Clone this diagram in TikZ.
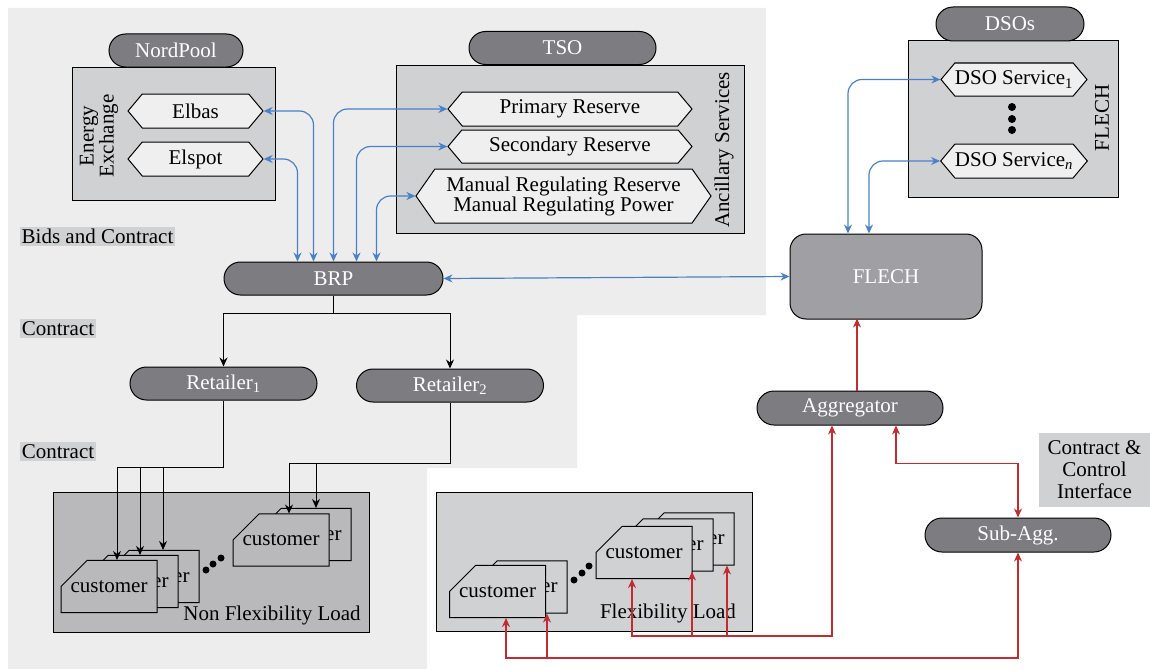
\documentclass[tikz,border=0pt]{standalone}
\usepackage{fontspec}
\setmainfont{Liberation Serif}
\usetikzlibrary{positioning}
\usetikzlibrary{shapes.misc,shapes.symbols,arrows.meta}
\definecolor{bglight}{HTML}{EDEDED}
\definecolor{boxgray}{HTML}{D0D1D3}
\definecolor{loadgray}{HTML}{B9B9BB}
\definecolor{pilldark}{HTML}{7D7C81}
\definecolor{flechgray}{HTML}{A0A0A4}
\definecolor{hexfill}{HTML}{EFEFEF}
\definecolor{linkblue}{HTML}{4A80C8}
\definecolor{linkred}{HTML}{C42B31}
\newcommand{\Sub}[1]{\textsubscript{#1}}

\begin{document}
\begin{tikzpicture}[x=1pt,y=-1pt,>={Stealth[length=9pt,width=8pt]},
  every node/.style={font=\fontsize{21}{24}\selectfont},
  pill/.style={rounded rectangle,draw,line width=1pt,fill=pilldark,text=white,minimum height=33pt,inner sep=0pt},
  frame/.style={draw,line width=1pt,fill=boxgray,inner sep=0pt},
  hexa/.style={signal,signal to=west and east,signal pointer angle=100,draw,line width=1pt,fill=hexfill,minimum height=34pt,inner sep=0pt},
  cust/.style={chamfered rectangle,chamfered rectangle corners=north west,chamfered rectangle xsep=28pt,chamfered rectangle ysep=20pt,draw,line width=1pt,minimum width=96pt,minimum height=41pt,inner sep=0pt},
  tag/.style={fill=boxgray,inner sep=2pt},
  blu/.style={draw=linkblue,line width=1.2pt,<->,rounded corners=14pt},
  rd/.style={draw=linkred,line width=1.2pt},
  blk/.style={draw=black,line width=1pt,->}]
\useasboundingbox (0,0) rectangle (1150,669);
% background
\fill[bglight] (8,8) -- (766,8) -- (766,315) -- (577,315) -- (577,468) -- (427,468) -- (427,669) -- (8,669) -- cycle;

% market boxes
\node[frame,minimum width=203pt,minimum height=133pt] (npbox) at (173.5,133.5) {};
\node[pill,minimum width=134pt] (nordpool) at (176,50.5) {NordPool};
\node[rotate=90,align=center,font=\fontsize{21}{19}\selectfont] (energy) at (99,136) {Energy\\Exchange};
\node[hexa,minimum width=135pt] (elbas) at (195.5,111) {Elbas};
\node[hexa,minimum width=135pt] (elspot) at (195.5,159) {Elspot};

\node[frame,minimum width=348pt,minimum height=168pt] (tsobox) at (570,149) {};
\node[pill,minimum width=187pt] (tso) at (562.5,48) {TSO};
\node[rotate=90] (ancillary) at (724,150) {Ancillary Services};
\node[hexa,minimum width=244pt] (prim) at (570,109) {Primary Reserve};
\node[hexa,minimum width=244pt,minimum height=33pt] (sec) at (570,146.5) {Secondary Reserve};
\node[hexa,minimum width=295pt,minimum height=54pt,signal pointer angle=110,align=center,font=\fontsize{21}{20}\selectfont] (man) at (563.5,196) {Manual Regulating Reserve\\Manual Regulating Power};

\node[frame,minimum width=210pt,minimum height=156pt] (dsobox) at (1013,119) {};
\node[pill,minimum width=148pt,minimum height=34pt] (dsos) at (1010,24) {DSOs};
\node[rotate=90] (flechside) at (1102,118) {FLECH};
\node[hexa,minimum width=146pt,minimum height=33pt] (dso1) at (1014,79.5) {DSO Service\Sub{1}};
\node[hexa,minimum width=146pt] (dson) at (1014,161) {DSO Service\Sub{\textit{n}}};
\foreach \y in {107,119,130} \fill (1012,\y) circle (4);

% actors
\node[pill,minimum width=219pt] (brp) at (333.5,278.5) {BRP};
\node[draw,line width=1pt,fill=flechgray,text=white,rounded corners=16pt,minimum width=192pt,minimum height=85pt] (flech) at (886,276.5) {FLECH};
\node[pill,minimum width=187pt] (ret1) at (223.5,383.5) {Retailer\Sub{1}};
\node[pill,minimum width=187pt] (ret2) at (450,385.5) {Retailer\Sub{2}};
\node[pill,minimum width=186pt,minimum height=34pt] (agg) at (850,408) {Aggregator};
\node[pill,minimum width=186pt,minimum height=34pt] (sub) at (1018,535) {Sub-Agg.};

% labels
\node[tag] (bids) at (97.5,236.5) {Bids and Contract};
\node[tag] (contract1) at (58,328.5) {Contract};
\node[tag] (contract2) at (58,451.5) {Contract};
\node[tag,align=center,minimum width=111pt,minimum height=74pt,font=\fontsize{21}{22}\selectfont] (cci) at (1094.5,470) {Contract \&\\Control\\Interface};

% non flexibility load
\node[frame,fill=loadgray,minimum width=316pt,minimum height=140pt] (nfbox) at (211,562) {};
\node (nflabel) at (272,615) {Non Flexibility Load};
\node[cust,fill=loadgray] (c3) at (151,576.5) {customer};
\node[cust,fill=loadgray] (c2) at (130,581.5) {customer};
\node[cust,fill=loadgray] (c1) at (109,586.5) {customer};
\node[cust,fill=loadgray] (c5) at (303,534.5) {customer};
\node[cust,fill=loadgray] (c4) at (281,540) {customer};
\foreach \x/\y in {206/570,213/564,221/558} \fill (\x,\y) circle (3.5);

% flexibility load
\node[frame,minimum width=316pt,minimum height=139pt] (flbox) at (594,561.5) {};
\node (fllabel) at (668,613) {Flexibility Load};
\node[cust,fill=boxgray] (f2) at (519,587) {customer};
\node[cust,fill=boxgray] (f1) at (497.5,591.5) {customer};
\node[cust,fill=boxgray] (f5) at (686,539) {customer};
\node[cust,fill=boxgray] (f4) at (665,545) {customer};
\node[cust,fill=boxgray] (f3) at (644,552.5) {customer};
\foreach \x/\y in {574/580,582/573,589/566} \fill (\x,\y) circle (3.5);

% bids and services
\draw[blu] (elspot.east) -| ([xshift=-36pt]brp.north);
\draw[blu] (elbas.east) -| ([xshift=-20pt]brp.north);
\draw[blu] (prim.west) -| ([xshift=0pt]brp.north);
\draw[blu] (sec.west) -| ([xshift=23pt]brp.north);
\draw[blu] (man.west) -| ([xshift=43pt]brp.north);
\draw[blu] (dso1.west) -| ([xshift=-38pt]flech.north);
\draw[blu] (dson.west) -| ([xshift=-17pt]flech.north);
\draw[blu] (brp.east) -- (flech.west);

% contracts
\draw[blk] (brp.south) -- ++(0,18) -| (ret1.north);
\draw[blk] (brp.south) -- ++(0,18) -| (ret2.north);
\coordinate (bus1) at (117,467);
\coordinate (bus2) at (140,467);
\coordinate (bus3) at (163,467);
\coordinate (bus4) at (289,463);
\coordinate (bus5) at (316,463);
\draw[blk] (ret1.south) |- (bus1) -- (bus1 |- c1.north);
\draw[blk] (bus2) -- (bus2 |- c2.north);
\draw[blk] (bus3) -- (bus3 |- c3.north);
\draw[blk] (ret2.south) |- (bus4) -- (bus4 |- c4.north);
\draw[blk] (bus5) -- (bus5 |- c5.north);

% control
\coordinate (rb1) at (632,636);
\coordinate (rb2) at (692,636);
\coordinate (rb3) at (727,636);
\coordinate (rb4) at (506,658);
\coordinate (rb5) at (547,658);
\draw[rd,<->] (rb1 |- f3.south) -- (rb1) -| ([xshift=-18pt]agg.south);
\draw[rd,->] (rb2) -- (rb2 |- f4.south);
\draw[rd,->] (rb3) -- (rb3 |- f5.south);
\draw[rd,<->] (rb4 |- f1.south) -- (rb4) -| (sub.south);
\draw[rd,->] (rb5) -- (rb5 |- f2.south);
\draw[rd,<->] ([xshift=46pt]agg.south) -- ++(0,38) -| (sub.north);
\draw[rd,->] ([xshift=7pt]agg.north) -- +(0,-72);
\end{tikzpicture}
\end{document}
